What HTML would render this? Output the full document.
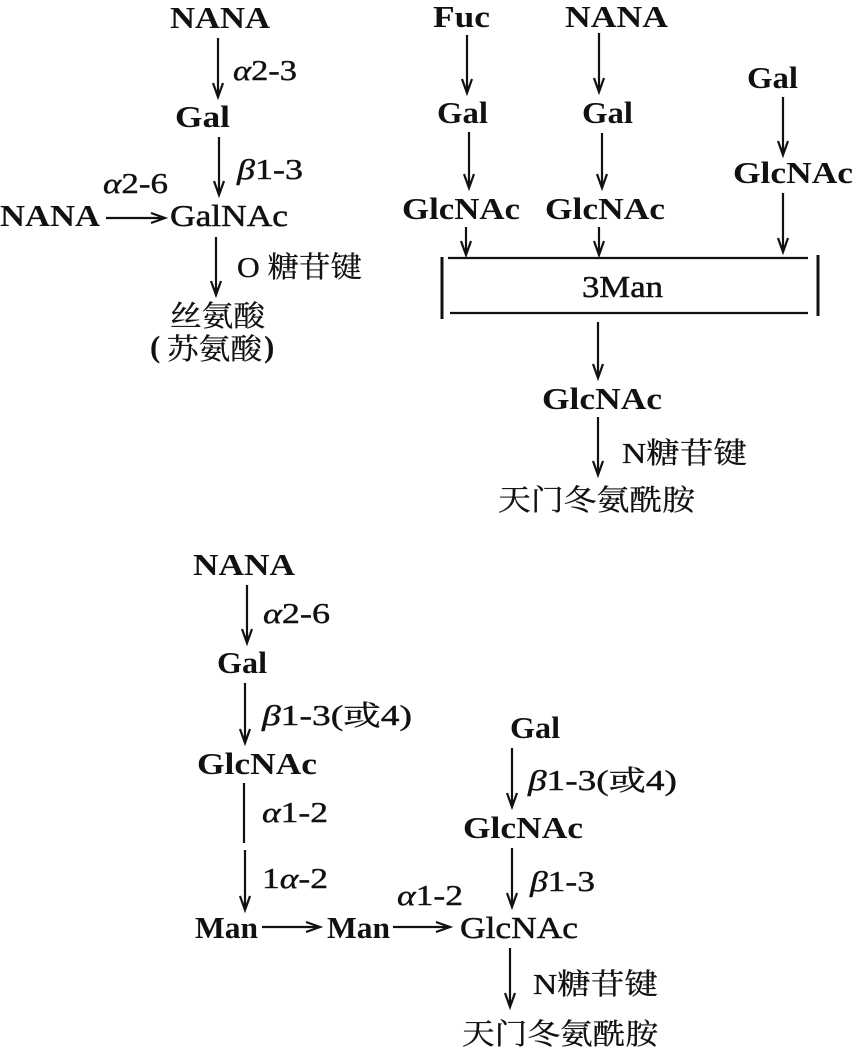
<!DOCTYPE html>
<html><head><meta charset="utf-8"><style>
html,body{margin:0;padding:0;background:#fff;}
svg{display:block;}
text{font-family:"Liberation Serif","Noto Serif CJK SC","Noto Sans CJK SC",serif;fill:#111;}
.n{font-size:31px;font-weight:bold;}
.r{font-size:31px;font-weight:normal;stroke:#111;stroke-width:0.5;}
.l{font-size:28px;font-weight:normal;stroke:#111;stroke-width:0.4;}
.c{font-size:29px;font-family:"Liberation Serif","Noto Serif CJK SC",serif;stroke:#111;stroke-width:0.3;}
.a{stroke:#111;stroke-width:2.2;fill:none;}
</style></head><body>
<svg width="854" height="1047" viewBox="0 0 854 1047" xmlns="http://www.w3.org/2000/svg">
<!-- LEFT BLOCK -->
<text class="n" x="170" y="28" textLength="100" lengthAdjust="spacingAndGlyphs">NANA</text>
<path class="a" d="M218 38V96M213 83L218 97L223 83"/>
<text class="l" x="233" y="80" textLength="64" lengthAdjust="spacingAndGlyphs"><tspan font-style="italic">α</tspan>2-3</text>
<text class="n" x="175" y="127" textLength="55" lengthAdjust="spacingAndGlyphs">Gal</text>
<path class="a" d="M219 137V194M214 181L219 195L224 181"/>
<text class="l" x="237" y="179" textLength="66" lengthAdjust="spacingAndGlyphs"><tspan font-style="italic">β</tspan>1-3</text>
<text class="l" x="103" y="193" textLength="65" lengthAdjust="spacingAndGlyphs"><tspan font-style="italic">α</tspan>2-6</text>
<text class="n" x="0" y="226" textLength="100" lengthAdjust="spacingAndGlyphs">NANA</text>
<path class="a" d="M106 218H164M151 213L165 218L151 223"/>
<text class="r" x="170" y="226" textLength="118" lengthAdjust="spacingAndGlyphs">GalNAc</text>
<path class="a" d="M216 237V294M211 281L216 295L221 281"/>
<text class="c" x="237" y="277" textLength="125" lengthAdjust="spacingAndGlyphs">O 糖苷键</text>
<text class="c" x="170" y="326" textLength="95" lengthAdjust="spacingAndGlyphs">丝氨酸</text>
<text class="n" x="150" y="357" font-size="32">(</text>
<text class="c" x="167" y="359" textLength="95" lengthAdjust="spacingAndGlyphs">苏氨酸</text>
<text class="n" x="264" y="357" font-size="32">)</text>

<!-- RIGHT BLOCK -->
<text class="n" x="433" y="27" textLength="57" lengthAdjust="spacingAndGlyphs">Fuc</text>
<text class="n" x="565" y="27" textLength="103" lengthAdjust="spacingAndGlyphs">NANA</text>
<text class="n" x="747" y="88" textLength="51" lengthAdjust="spacingAndGlyphs">Gal</text>
<path class="a" d="M467 35V92M462 79L467 93L472 79"/>
<path class="a" d="M599 33V91M594 78L599 92L604 78"/>
<text class="n" x="437" y="123" textLength="51" lengthAdjust="spacingAndGlyphs">Gal</text>
<text class="n" x="582" y="123" textLength="51" lengthAdjust="spacingAndGlyphs">Gal</text>
<path class="a" d="M469 132V187M464 174L469 188L474 174"/>
<path class="a" d="M602 133V187M597 174L602 188L607 174"/>
<path class="a" d="M783 97V154M778 141L783 155L788 141"/>
<text class="n" x="733" y="183" textLength="120" lengthAdjust="spacingAndGlyphs">GlcNAc</text>
<text class="n" x="402" y="219" textLength="118" lengthAdjust="spacingAndGlyphs">GlcNAc</text>
<text class="n" x="545" y="219" textLength="120" lengthAdjust="spacingAndGlyphs">GlcNAc</text>
<path class="a" d="M466 227V254M461 241L466 255L471 241"/>
<path class="a" d="M599 227V254M594 241L599 255L604 241"/>
<path class="a" d="M783 193V251M778 238L783 252L788 238"/>
<path d="M448 258H808M450 313H808" stroke="#111" stroke-width="2.2" fill="none"/>
<path d="M442 257V319M818 255V316" stroke="#111" stroke-width="3" fill="none"/>
<text class="r" x="582" y="297" textLength="81" lengthAdjust="spacingAndGlyphs">3Man</text>
<path class="a" d="M598 322V377M593 364L598 378L603 364"/>
<text class="n" x="542" y="409" textLength="120" lengthAdjust="spacingAndGlyphs">GlcNAc</text>
<path class="a" d="M598 417V474M593 461L598 475L603 461"/>
<text class="c" x="622" y="463" textLength="125" lengthAdjust="spacingAndGlyphs">N糖苷键</text>
<text class="c" x="498" y="510" font-size="30" textLength="197" lengthAdjust="spacingAndGlyphs">天门冬氨酰胺</text>

<!-- BOTTOM BLOCK -->
<text class="n" x="193" y="575" textLength="102" lengthAdjust="spacingAndGlyphs">NANA</text>
<path class="a" d="M247 585V642M242 629L247 643L252 629"/>
<text class="l" x="263" y="623" textLength="67" lengthAdjust="spacingAndGlyphs"><tspan font-style="italic">α</tspan>2-6</text>
<text class="n" x="217" y="673" textLength="50" lengthAdjust="spacingAndGlyphs">Gal</text>
<path class="a" d="M245 683V742M240 729L245 743L250 729"/>
<text class="l" x="262" y="725" textLength="150" lengthAdjust="spacingAndGlyphs"><tspan font-style="italic">β</tspan>1-3(或4)</text>
<text class="n" x="197" y="774" textLength="120" lengthAdjust="spacingAndGlyphs">GlcNAc</text>
<path class="a" d="M244 783V843"/>
<text class="l" x="262" y="822" textLength="66" lengthAdjust="spacingAndGlyphs"><tspan font-style="italic">α</tspan>1-2</text>
<path class="a" d="M245 850V909M240 896L245 910L250 896"/>
<text class="l" x="262" y="888" textLength="66" lengthAdjust="spacingAndGlyphs">1<tspan font-style="italic">α</tspan>-2</text>
<text class="n" x="195" y="938" textLength="63" lengthAdjust="spacingAndGlyphs">Man</text>
<path class="a" d="M262 927H319M306 922L320 927L306 932"/>
<text class="n" x="327" y="938" textLength="63" lengthAdjust="spacingAndGlyphs">Man</text>
<path class="a" d="M393 927H449M436 922L450 927L436 932"/>
<text class="l" x="397" y="905" textLength="66" lengthAdjust="spacingAndGlyphs"><tspan font-style="italic">α</tspan>1-2</text>
<text class="r" x="460" y="938" textLength="118" lengthAdjust="spacingAndGlyphs">GlcNAc</text>
<text class="n" x="510" y="738" textLength="50" lengthAdjust="spacingAndGlyphs">Gal</text>
<path class="a" d="M512 748V806M507 793L512 807L517 793"/>
<text class="l" x="528" y="790" textLength="149" lengthAdjust="spacingAndGlyphs"><tspan font-style="italic">β</tspan>1-3(或4)</text>
<text class="n" x="463" y="838" textLength="120" lengthAdjust="spacingAndGlyphs">GlcNAc</text>
<path class="a" d="M512 848V906M507 893L512 907L517 893"/>
<text class="l" x="530" y="891" textLength="65" lengthAdjust="spacingAndGlyphs"><tspan font-style="italic">β</tspan>1-3</text>
<path class="a" d="M510 948V1006M505 993L510 1007L515 993"/>
<text class="c" x="533" y="994" textLength="125" lengthAdjust="spacingAndGlyphs">N糖苷键</text>
<text class="c" x="462" y="1044" font-size="30" textLength="196" lengthAdjust="spacingAndGlyphs">天门冬氨酰胺</text>
</svg>
</body></html>
